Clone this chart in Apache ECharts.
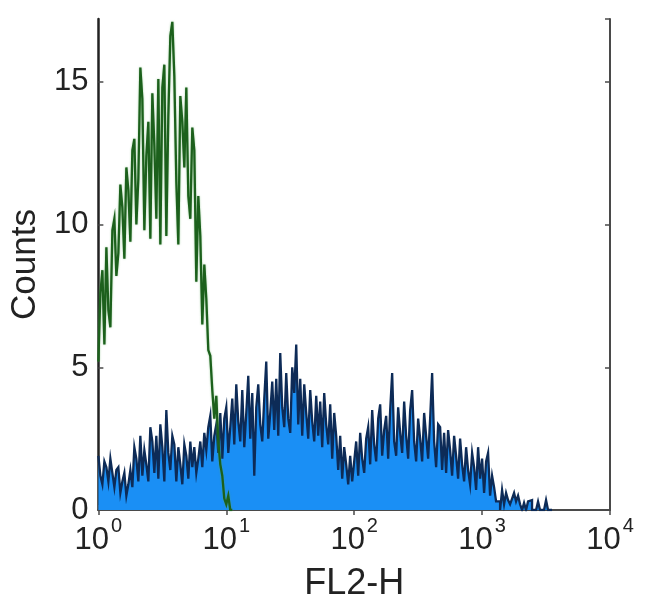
<!DOCTYPE html>
<html>
<head>
<meta charset="utf-8">
<script src="https://cdn.jsdelivr.net/npm/echarts@6/dist/echarts.min.js"></script>
<style>
html,body{margin:0;padding:0;background:#fff;}
#chart{width:650px;height:615px;}
</style>
</head>
<body>
<div id="chart"></div>
<script>
// 256 log channels over 4 decades (64 per decade)
var channelsPerDecade = 64;
var xTickExponents = [0, 1, 2, 3, 4];
var yTicks = [0, 5, 10, 15];

var isotypeCounts = [
  5.2, 7.6, 8.4, 5.8, 9.2, 7.0, 6.4, 9.8,
  10.2, 8.2, 9.0, 11.4, 10.6, 8.8, 12.0, 11.2,
  9.4, 12.6, 13.0, 10.0, 11.6, 15.5, 14.4, 9.8,
  12.4, 13.6, 9.5, 14.6, 12.8, 10.2, 15.1, 9.3,
  14.8, 15.6, 9.6, 13.8, 16.6, 17.1, 15.2, 11.5,
  9.3, 14.5, 13.6, 12.0, 14.8, 11.0, 10.2, 13.4,
  12.6, 8.0, 11.0, 9.6, 6.5, 8.6, 7.4, 5.6,
  5.4, 4.2, 3.2, 4.0, 2.4, 1.6, 1.2, 0.4,
  0.2, 0.5, 0
];

var stainedCounts = [
  1.9, 1.2, 0.9, 1.7, 1.5, 1.0, 1.8, 1.3,
  0.8, 1.4, 1.5, 0.6, 1.0, 1.3, 0.5, 0.9,
  1.4, 0.8, 2.2, 1.8, 1.0, 2.6, 1.2, 2.1,
  1.6, 1.0, 2.9, 2.4, 1.3, 2.6, 1.1, 3.0,
  2.2, 1.0, 3.5, 2.0, 1.4, 2.6, 2.3, 1.0,
  2.2, 1.6, 0.9, 2.3, 1.9, 1.1, 2.4, 1.5,
  2.2, 1.3, 1.8, 2.4, 1.5, 2.7, 2.1, 2.9,
  3.3, 1.7, 2.6, 3.0, 2.0, 3.4, 1.8, 3.2,
  3.6, 2.0, 2.9, 3.9, 2.3, 4.4, 3.1, 2.4,
  4.2, 2.2, 3.4, 4.7, 2.5, 4.1, 1.2, 3.6,
  4.4, 3.0, 2.4, 3.9, 5.2, 2.5, 3.4, 4.5,
  2.8, 4.6, 2.6, 5.5, 3.6, 2.9, 4.8, 3.2,
  2.7, 5.0, 4.1, 5.8, 3.0, 4.6, 2.6, 4.4,
  3.4, 2.5, 4.2, 3.1, 2.4, 4.0, 2.6, 3.8,
  2.2, 4.1, 3.0, 2.3, 3.7, 1.8, 3.4, 2.6,
  1.4, 2.6, 1.1, 2.2, 1.6, 0.9, 1.9, 1.0,
  1.7, 2.4, 1.2, 2.7, 1.8, 1.3, 2.5, 2.9,
  1.6, 3.5, 2.3, 1.7, 3.2, 3.7, 1.9, 2.8,
  3.3, 1.8, 3.5, 4.8, 2.4, 1.9, 3.6, 2.7,
  2.0, 3.8, 2.6, 1.8, 3.5, 4.2, 2.4, 1.7,
  3.2, 2.5, 1.7, 3.4, 2.6, 1.8, 3.2, 4.8,
  2.4, 1.5, 3.0, 2.9, 1.4, 2.7, 1.3, 2.8,
  2.1, 1.2, 2.6, 1.9, 1.1, 2.5, 1.6, 1.0,
  2.2, 1.4, 0.9, 2.0, 1.5, 0.7, 2.2, 1.1,
  1.8, 0.6, 1.7, 2.0, 0.5, 1.2, 0.8, 0.3,
  0.3, 0, 0.7, 0.2, 0.6, 0.35, 0.2, 0.4,
  0.6, 0.3, 0.5, 0.2, 0, 0.25, 0, 0.3,
  0.35, 0, 0, 0, 0.3, 0, 0, 0,
  0.35, 0, 0
];

function toSteps(counts) {
  var pts = [];
  for (var c = 0; c < counts.length; c++) {
    pts.push([Math.pow(10, c / channelsPerDecade), counts[c]]);
  }
  pts.push([Math.pow(10, counts.length / channelsPerDecade), 0]);
  return pts;
}

var axisColor = '#4a4a4a';
var textColor = '#222';
var fontFam = '"Liberation Sans", Arial, Helvetica, sans-serif';

var chart = echarts.init(document.getElementById('chart'), null, {renderer: 'canvas'});
chart.setOption({
  animation: false,
  backgroundColor: '#fff',
  grid: {left: 93, right: 40, top: 19, bottom: 105},
  xAxis: [{
    type: 'log', logBase: 10, min: 1, max: 10000,
    name: 'FL2-H', nameLocation: 'middle', nameGap: 56,
    nameTextStyle: {fontSize: 36, color: textColor, fontFamily: fontFam},
    axisLine: {show: true, lineStyle: {color: axisColor, width: 2}},
    axisTick: {show: true, inside: true, length: 5, lineStyle: {color: axisColor, width: 1.5}},
    minorTick: {show: false},
    splitLine: {show: false},
    axisLabel: {
      margin: 6,
      formatter: function (v) {
        var e = Math.round(Math.log(v) / Math.LN10);
        if (xTickExponents.indexOf(e) < 0) return '';
        return '{b|10}{s|' + e + '}';
      },
      rich: {
        b: {fontSize: 31, color: textColor, fontFamily: fontFam, verticalAlign: 'bottom', lineHeight: 40},
        s: {fontSize: 20, color: textColor, fontFamily: fontFam, verticalAlign: 'top', lineHeight: 40, padding: [0, 0, 16, 2]}
      }
    }
  }, {
    type: 'log', logBase: 10, min: 1, max: 10000, position: 'top',
    axisLine: {show: true, lineStyle: {color: axisColor, width: 2}},
    axisTick: {show: true, inside: true, length: 5, lineStyle: {color: axisColor, width: 1.5}},
    axisLabel: {show: false}, splitLine: {show: false}
  }],
  yAxis: [{
    type: 'value', min: 0, max: 17.2, interval: 5,
    name: 'Counts', nameLocation: 'middle', nameGap: 50, nameRotate: 90,
    nameTextStyle: {fontSize: 35, color: textColor, fontFamily: fontFam},
    axisLine: {show: true, lineStyle: {color: '#222', width: 2.5}},
    axisTick: {show: true, inside: true, length: 5, lineStyle: {color: axisColor, width: 1.5}},
    splitLine: {show: false},
    axisLabel: {
      margin: 10, fontSize: 31, color: textColor, fontFamily: fontFam,
      showMaxLabel: false,
      formatter: function (v) { return yTicks.indexOf(v) >= 0 ? String(v) : ''; }
    }
  }, {
    type: 'value', min: 0, max: 17.2, interval: 5, position: 'right',
    axisLine: {show: true, lineStyle: {color: axisColor, width: 2}},
    axisTick: {show: true, inside: true, length: 5, lineStyle: {color: axisColor, width: 1.5}},
    axisLabel: {show: false}, splitLine: {show: false}
  }],
  series: [{
    name: 'stained', type: 'line', step: 'end', showSymbol: false, symbol: 'none',
    xAxisIndex: 0, yAxisIndex: 0, z: 2,
    data: toSteps(stainedCounts),
    lineStyle: {color: '#0d2b57', width: 2.3, join: 'miter'},
    areaStyle: {color: '#1a8ff5', opacity: 1, origin: 'start'}
  }, {
    name: 'isotype', type: 'line', step: 'end', showSymbol: false, symbol: 'none',
    xAxisIndex: 0, yAxisIndex: 0, z: 3,
    data: toSteps(isotypeCounts),
    lineStyle: {color: '#1c601c', width: 2.3, join: 'miter', shadowColor: 'rgba(90,170,90,0.6)', shadowBlur: 2}
  }]
});
</script>
</body>
</html>
